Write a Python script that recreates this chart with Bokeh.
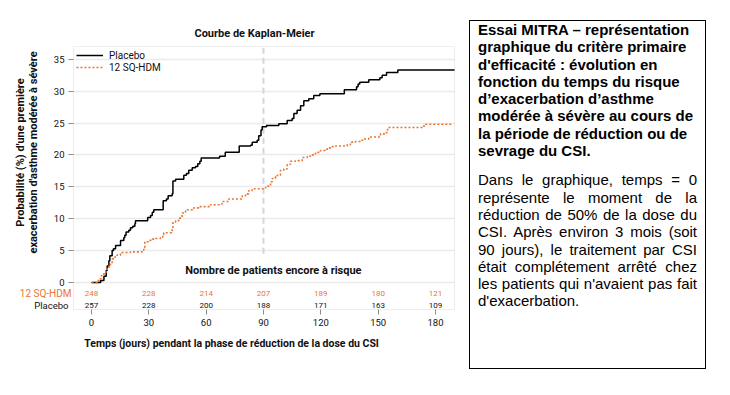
import numpy as np
from bokeh.plotting import figure
from bokeh.models import Label, FixedTicker, Range1d, Div, BoxAnnotation
from bokeh.layouts import row
from bokeh.core.properties import value
from bokeh.embed import file_html
from bokeh.resources import INLINE

# ---------------- data ----------------
placebo_days = [0, 4.8, 6.5, 7.7, 8.2, 9.1, 9.6, 10.8, 11.5, 12.6, 15.2, 16.9, 17.4, 18.1,
                19.5, 20.4, 21.6, 22.7, 23.0, 29.4, 30.9, 31.8, 32.6, 37.5, 39.2, 40.1,
                42.2, 42.6, 44.0, 48.3, 49.7, 50.9, 52.7, 54.4, 55.6, 56.7, 57.4, 67.0,
                70.0, 77.3, 83.2, 84.1, 86.7, 87.5, 88.7, 89.3, 91.6, 98.0, 102.4, 105.0,
                105.9, 107.6, 109.4, 111.1, 113.7, 116.3, 119.5, 132.3, 138.7, 139.5,
                140.4, 145.1, 150.9, 152.1, 154.4, 160.3, 190.0]
placebo_pct = [0, 0.3, 1.0, 1.9, 2.6, 3.4, 4.2, 5.0, 5.3, 5.8, 6.6, 7.0, 7.4, 7.9,
               8.2, 8.6, 8.8, 9.2, 9.7, 10.2, 10.5, 11.0, 11.4, 12.8, 13.1, 13.6,
               13.9, 15.9, 16.2, 16.8, 17.1, 17.6, 18.0, 18.2, 18.6, 19.0, 19.5, 19.8,
               20.4, 21.4, 21.5, 22.0, 22.3, 23.0, 23.9, 24.4, 24.6, 24.9, 25.4, 25.7,
               26.5, 27.0, 27.7, 28.5, 28.8, 29.3, 29.6, 30.2, 30.7, 31.1,
               31.4, 31.8, 32.1, 32.5, 32.9, 33.3, 33.3]

hdm_days = [0, 3.0, 4.2, 5.2, 6.5, 7.7, 9.1, 9.9, 10.8, 12.2, 13.4, 15.2, 20.4, 26.5,
            27.4, 27.9, 30.0, 31.8, 33.5, 36.1, 37.3, 37.8, 41.9, 42.2, 42.6, 44.0,
            45.7, 47.4, 49.2, 50.1, 53.5, 56.1, 62.3, 67.5, 68.4, 71.8, 78.9, 80.6,
            82.3, 84.1, 91.1, 91.9, 93.7, 94.6, 96.3, 97.2, 98.9, 100.6, 102.4, 104.1,
            106.7, 110.3, 112.9, 114.6, 117.2, 119.8, 122.4, 124.2, 126.0, 127.7,
            133.8, 135.5, 138.1, 140.8, 142.5, 145.1, 151.2, 153.8, 154.7, 155.0,
            174.0, 189.0]
hdm_pct = [0, 0.3, 0.6, 1.1, 1.6, 2.1, 2.6, 3.1, 3.7, 4.0, 4.3, 4.7, 4.8, 5.1,
           5.5, 6.4, 6.6, 6.8, 6.9, 7.0, 7.4, 7.8, 7.9, 8.6, 9.5, 9.7,
           10.1, 10.9, 11.2, 11.4, 11.7, 11.9, 12.2, 12.3, 12.7, 13.1, 13.6, 13.9,
           14.4, 14.7, 14.9, 15.1, 15.8, 16.3, 16.6, 16.8, 17.6, 17.8, 18.5, 19.0,
           19.1, 19.6, 19.8, 20.0, 20.4, 20.7, 20.9, 21.1, 21.3, 21.4,
           21.6, 22.0, 22.1, 22.3, 22.5, 22.8, 23.3, 23.5, 23.9, 24.3,
           24.8, 24.8]

risk_days = [0, 30, 60, 90, 120, 150, 180]
risk_hdm = [248, 228, 214, 207, 189, 180, 121]
risk_placebo = [257, 228, 200, 188, 171, 163, 109]

x_ticks = [0, 30, 60, 90, 120, 150, 180]
y_ticks = [0, 5, 10, 15, 20, 25, 30, 35]

series_names = ["Placebo", "12 SQ-HDM"]

# ---------------- style / layout ----------------
FONT = "Roboto"
ORANGE = "#ea7530"
GRID = "#ebebeb"
FRAME = "#c4c4c4"
INK = "#111111"

# visible plot box (data units) and full canvas ranges
BOX_L, BOX_R, BOX_B, BOX_T = -9.42, 189.95, -4.23, 36.99

p = figure(width=458, height=388, title=None,
           x_range=Range1d(-40.82, 192.05), y_range=Range1d(-11.91, 43.89),
           output_backend="svg", toolbar_location=None,
           min_border_left=13, min_border_right=0,
           min_border_top=2, min_border_bottom=30)
p.outline_line_color = None
p.background_fill_color = "white"
p.border_fill_color = "white"

# grid, restricted to the plot box by white masks
p.xgrid.visible = False
p.ygrid.ticker = FixedTicker(ticks=y_ticks)
p.ygrid.grid_line_color = GRID
p.ygrid.grid_line_width = 1.5
p.add_layout(BoxAnnotation(right=BOX_L, fill_color="white", fill_alpha=1,
                           line_color=None, level="underlay"))
p.add_layout(BoxAnnotation(left=BOX_R, fill_color="white", fill_alpha=1,
                           line_color=None, level="underlay"))
p.add_layout(BoxAnnotation(left=BOX_L, right=BOX_R, bottom=BOX_B, top=BOX_T,
                           fill_alpha=0, line_color=FRAME, line_width=1,
                           level="underlay"))

# axes drawn at the plot box edges
for ax in (p.xaxis[0], p.yaxis[0]):
    ax.axis_line_color = None
    ax.major_tick_line_color = "#8c8c8c"
    ax.minor_tick_line_color = None
    ax.major_tick_in = 0
    ax.major_tick_out = 5
    ax.major_label_text_font = FONT
    ax.major_label_text_font_size = "9.5px"
    ax.major_label_text_color = INK
p.xaxis.ticker = FixedTicker(ticks=x_ticks)
p.yaxis.ticker = FixedTicker(ticks=y_ticks)
p.xaxis.fixed_location = BOX_B
p.yaxis.fixed_location = BOX_L
p.xaxis.major_label_standoff = 4
p.yaxis.major_label_standoff = 4
p.yaxis.axis_label = " "
p.yaxis.axis_label_text_font_size = "10px"
p.yaxis.axis_label_standoff = -27

# vertical reference at day 90
p.segment(x0=[90], y0=[4.5], x1=[90], y1=[BOX_T], line_color="#d6d6d6",
          line_width=2, line_dash="6 4")

# curves
p.step(placebo_days, placebo_pct, mode="after", line_color="black", line_width=1.5,
       legend_label=series_names[0])
p.step(hdm_days, hdm_pct, mode="after", line_color=ORANGE, line_width=1.6,
       line_dash="2 2", legend_label=series_names[1])

leg = p.legend[0]
leg.location = (63, 285)
leg.border_line_color = None
leg.background_fill_alpha = 0
leg.label_text_font = FONT
leg.label_text_font_size = "10px"
leg.label_text_color = INK
leg.glyph_width = 27
leg.glyph_height = 12
leg.label_height = 12
leg.label_standoff = 6
leg.spacing = 0
leg.padding = 1
leg.margin = 0

# risk table
p.text(x=risk_days, y=[-1.72] * len(risk_days), text=[str(v) for v in risk_hdm],
       text_font=value(FONT), text_font_size="8px", text_color=ORANGE,
       text_align="center", text_baseline="middle")
p.text(x=risk_days, y=[-3.6] * len(risk_days), text=[str(v) for v in risk_placebo],
       text_font=value(FONT), text_font_size="8px", text_color=INK,
       text_align="center", text_baseline="middle")
p.add_layout(Label(x=95.2, y=1.88, text="Nombre de patients encore à risque",
                   text_font=FONT, text_font_size="11px", text_font_style="bold",
                   text_color=INK, text_align="center", text_baseline="middle"))
p.add_layout(Label(x=-10.47, y=-1.72, text=series_names[1],
                   text_font=FONT, text_font_size="10px", text_color=ORANGE,
                   text_align="right", text_baseline="middle"))
p.add_layout(Label(x=-12.04, y=-3.6, text=series_names[0],
                   text_font=FONT, text_font_size="9.5px", text_color=INK,
                   text_align="right", text_baseline="middle"))

# titles
p.add_layout(Label(x=85.3, y=39.03, text="Courbe de Kaplan-Meier", text_font=FONT,
                   text_font_size="11px", text_font_style="bold", text_color=INK,
                   text_align="center", text_baseline="middle"))
p.add_layout(Label(x=73.3, y=-9.56,
                   text="Temps (jours) pendant la phase de réduction de la dose du CSI",
                   text_font=FONT, text_font_size="10.5px", text_font_style="bold",
                   text_color=INK, text_align="center", text_baseline="middle"))
p.add_layout(Label(x=-37.15, y=20.38, angle=np.pi / 2,
                   text="Probabilité (%) d'une première", text_font=FONT,
                   text_font_size="11px", text_font_style="bold", text_color=INK,
                   text_align="center", text_baseline="middle"))
p.add_layout(Label(x=-30.35, y=20.38, angle=np.pi / 2,
                   text="exacerbation d'asthme modérée à sévère", text_font=FONT,
                   text_font_size="11px", text_font_style="bold", text_color=INK,
                   text_align="center", text_baseline="middle"))

# ---------------- side text box ----------------
heading = ["Essai MITRA – représentation",
           "graphique du critère primaire",
           "d'efficacité : évolution en",
           "fonction du temps du risque",
           "d’exacerbation d’asthme",
           "modérée à sévère au cours de",
           "la période de réduction ou de",
           "sevrage du CSI."]
para = ["Dans le graphique, temps = 0",
        "représente le moment de la",
        "réduction de 50% de la dose du",
        "CSI. Après environ 3 mois (soit",
        "90 jours), le traitement par CSI",
        "était complétement arrêté chez",
        "les patients qui n'avaient pas fait",
        "d'exacerbation."]

h_html = "".join(f'<div style="white-space:nowrap;">{t}</div>' for t in heading)
p_html = "".join(
    f'<div style="white-space:nowrap;text-align:justify;text-align-last:{"justify" if i < len(para) - 1 else "left"};">{t}</div>'
    for i, t in enumerate(para))

box = (
    '<div style="box-sizing:border-box;margin:20px 0 0 11px;width:237px;height:349px;'
    'border:1px solid #000;padding:0 8px 0 8px;font-family:\'Liberation Sans\',Arial,sans-serif;'
    'font-size:15px;line-height:17.3px;color:#000;background:#fff;">'
    f'<div style="font-weight:bold;">{h_html}</div>'
    f'<div style="margin-top:12px;">{p_html}</div>'
    '</div>'
)
div = Div(text=box, width=262, height=388, margin=(0, 0, 0, 0))

layout = row(p, div)
open("out.html", "w").write(file_html(layout, INLINE))
